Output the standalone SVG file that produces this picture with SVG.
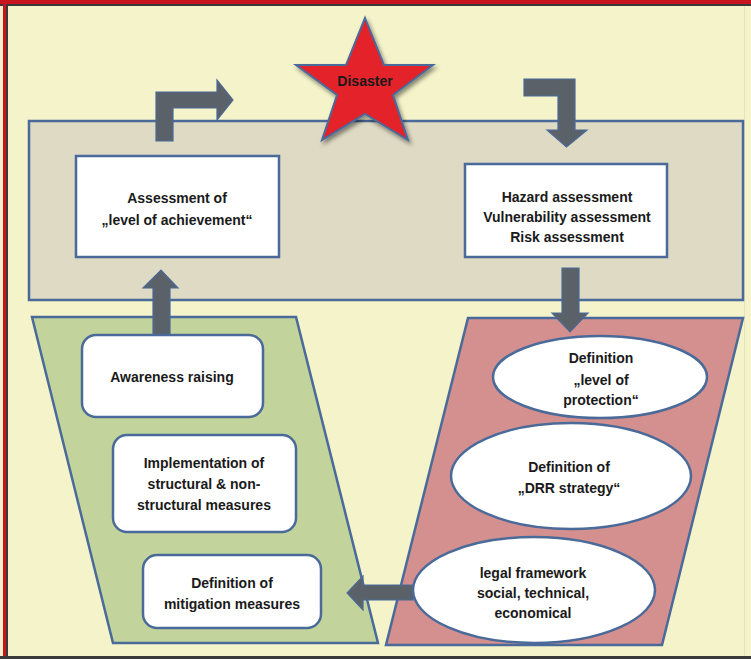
<svg xmlns="http://www.w3.org/2000/svg" width="751" height="659" viewBox="0 0 751 659">
<style>
.t{font-family:"Liberation Sans",Arial,sans-serif;font-weight:bold;font-size:14px;fill:#1a1a1a;text-anchor:middle}
.box{fill:#ffffff;stroke:#4a6a9a;stroke-width:2.5}
.arr{fill:#5b6169;stroke:#4a6a9a;stroke-width:1.2}
.cont{stroke:#4a6a9a;stroke-width:2.5}
</style>
<defs>
<filter id="sh" x="-20%" y="-20%" width="150%" height="150%">
<feDropShadow dx="2" dy="3" stdDeviation="2" flood-color="#000" flood-opacity="0.45"/>
</filter>
</defs>
<rect x="0" y="0" width="751" height="659" fill="#f4f3c9"/>
<rect x="0" y="0" width="751" height="4" fill="#c8141e"/>
<rect x="0" y="4" width="751" height="2" fill="#3a3a3a"/>
<rect x="3" y="0" width="3" height="659" fill="#c8141e"/>
<rect x="6" y="4" width="2" height="655" fill="#3a3a3a"/>
<rect x="0" y="656" width="751" height="3" fill="#3a3a3a"/>
<line x1="744.5" y1="6" x2="744.5" y2="656" stroke="#e4e2bc" stroke-width="1"/>

<g id="assessment-phase">
<rect class="cont" x="29" y="121" width="714" height="179" fill="#dedac3"/>
</g>
<g id="mitigation-phase">
<polygon class="cont" points="32,317 296,317 378,643 113,643" fill="#c2d49c"/>
</g>
<g id="planning-phase">
<polygon class="cont" points="468,318 743,318 662,645 386,645" fill="#d4908e"/>
</g>

<g id="connectors">
<path class="arr" d="M156,141 L156,92 L217,92 L217,80 L233,100 L217,120 L217,108 L173,108 L173,141 Z"/>
<path class="arr" d="M524,79 L575,79 L575,130 L587,130 L566.5,147 L547,130 L558,130 L558,96 L524,96 Z"/>
<path class="arr" d="M562,268 L579,268 L579,313 L588,313 L570,332 L552,313 L562,313 Z"/>
<path class="arr" d="M153,335 L153,288 L143,288 L161,270 L178,288 L170,288 L170,335 Z"/>
<path class="arr" d="M413,585 L413,600 L363,600 L363,610 L347,593 L363,576 L363,585 Z"/>
</g>

<g id="disaster">
<polygon points="365,18 384,65 433,65 393,95 408,140 365,114 322,140 337,95 296,65 346,65" fill="#e3202a" stroke="#4a6a9a" stroke-width="2" filter="url(#sh)"/>
<text class="t" x="365" y="86">Disaster</text>
</g>

<g id="assessment-achievement">
<rect class="box" x="76" y="156" width="203" height="101"/>
<text class="t" x="177" y="203">Assessment  of</text>
<text class="t" x="177" y="225">„level  of achievement“</text>
</g>

<g id="hazard-assessment">
<rect class="box" x="465" y="164" width="202" height="93"/>
<text class="t" x="567" y="202">Hazard  assessment</text>
<text class="t" x="567" y="222">Vulnerability assessment</text>
<text class="t" x="567" y="242">Risk  assessment</text>
</g>

<g id="awareness-raising">
<rect class="box" x="82" y="335" width="181" height="82" rx="14"/>
<text class="t" x="172" y="382">Awareness  raising</text>
</g>

<g id="implementation">
<rect class="box" x="113" y="435" width="183" height="97" rx="14"/>
<text class="t" x="204" y="468">Implementation  of</text>
<text class="t" x="204" y="489">structural &amp; non-</text>
<text class="t" x="204" y="510">structural  measures</text>
</g>

<g id="mitigation-measures">
<rect class="box" x="143" y="555" width="178" height="73" rx="14"/>
<text class="t" x="232" y="588">Definition of</text>
<text class="t" x="232" y="609">mitigation  measures</text>
</g>

<g id="level-of-protection">
<ellipse class="box" cx="600" cy="377" rx="107" ry="41"/>
<text class="t" x="601" y="363">Definition</text>
<text class="t" x="601" y="385">„level  of</text>
<text class="t" x="601" y="405">protection“</text>
</g>

<g id="drr-strategy">
<ellipse class="box" cx="571" cy="476" rx="120" ry="53"/>
<text class="t" x="569" y="472">Definition of</text>
<text class="t" x="569" y="493">„DRR strategy“</text>
</g>

<g id="legal-framework">
<ellipse class="box" cx="534" cy="590" rx="121" ry="53"/>
<text class="t" x="533" y="578">legal  framework</text>
<text class="t" x="533" y="598">social, technical,</text>
<text class="t" x="533" y="618">economical</text>
</g>
</svg>
